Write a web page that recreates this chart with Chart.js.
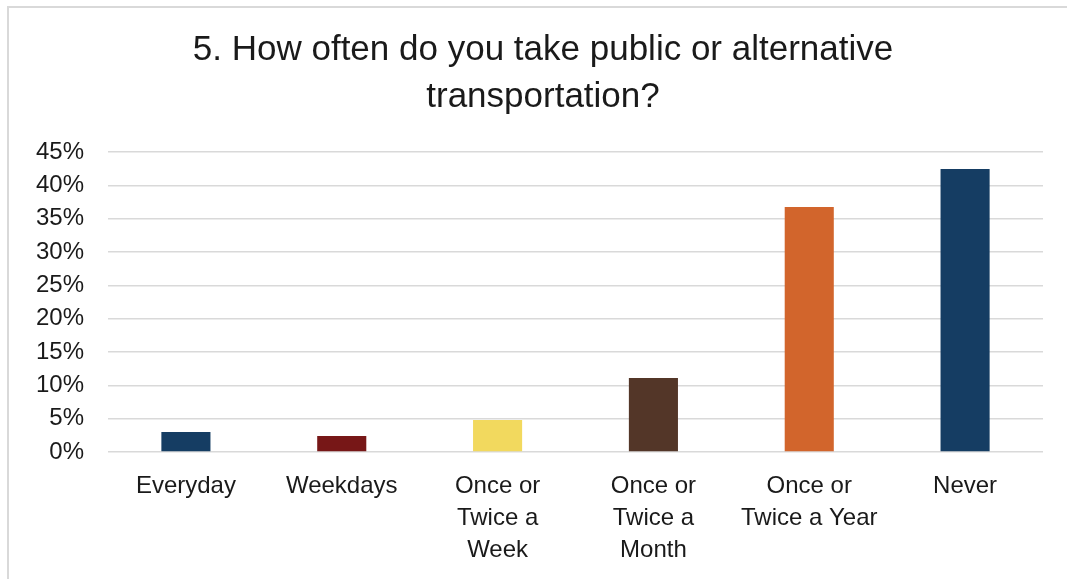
<!DOCTYPE html>
<html>
<head>
<meta charset="utf-8">
<script src="https://cdn.jsdelivr.net/npm/chart.js@4.4.1/dist/chart.umd.min.js"></script>
<style>
  html, body { margin: 0; padding: 0; background: #fff; overflow: hidden; }
  #frame {
    position: absolute; left: 7px; top: 6px; width: 1200px; height: 700px;
    border: 2px solid #d9d9d9; box-sizing: border-box;
  }
  #wrap { position: absolute; left: 0; top: 0; width: 1067px; height: 579px; }
</style>
</head>
<body>
<div id="frame"></div>
<div id="wrap"><canvas id="chart"></canvas></div>
<script>
// data
const categories = [
  'Everyday',
  'Weekdays',
  ['Once or', 'Twice a', 'Week'],
  ['Once or', 'Twice a', 'Month'],
  ['Once or', 'Twice a Year'],
  'Never'
];
const shares = [3.0, 2.4, 4.8, 11.1, 36.75, 42.45];
const barColors = ['#153d63', '#771717', '#f2d95e', '#533628', '#d2652c', '#153d63'];
const titleLines = ['5. How often do you take public or alternative', 'transportation?'];

const fontFamily = '"Liberation Sans", Arial, sans-serif';

// the built-in title centres over the whole layout box; the original sits a bit to the right,
// so draw it ourselves
const offsetTitle = {
  id: 'offsetTitle',
  afterDraw(chart) {
    const c = chart.ctx;
    c.save();
    c.fillStyle = '#1a1a1a';
    c.font = '35px ' + fontFamily;
    c.textAlign = 'center';
    c.textBaseline = 'middle';
    titleLines.forEach((line, i) => c.fillText(line, 543, 50 + i * 47));
    c.restore();
  }
};

const ctx = document.getElementById('chart').getContext('2d');
new Chart(ctx, {
  type: 'bar',
  data: {
    labels: categories,
    datasets: [{
      data: shares,
      backgroundColor: barColors,
      borderWidth: 0,
      categoryPercentage: 1,
      barPercentage: 0.315
    }]
  },
  options: {
    responsive: true,
    maintainAspectRatio: false,
    animation: false,
    layout: { padding: { left: 0, right: 24, top: 152, bottom: 0 } },
    plugins: {
      legend: { display: false },
      tooltip: { enabled: false },
      title: { display: false }
    },
    scales: {
      x: {
        grid: { display: false },
        border: { display: false },
        ticks: {
          color: '#1a1a1a',
          font: { family: fontFamily, size: 24, lineHeight: 1.333 },
          padding: 10,
          maxRotation: 0,
          autoSkip: false
        },
        afterFit: s => { s.height = 127; }
      },
      y: {
        min: 0,
        max: 45,
        grid: { color: '#d9d9d9', lineWidth: 1.5, drawTicks: false },
        border: { display: false },
        ticks: {
          stepSize: 5,
          color: '#1a1a1a',
          font: { family: fontFamily, size: 24 },
          padding: 24,
          callback: v => v + '%'
        },
        afterFit: s => { s.width = 108; }
      }
    }
  },
  plugins: [offsetTitle]
});
</script>
</body>
</html>
